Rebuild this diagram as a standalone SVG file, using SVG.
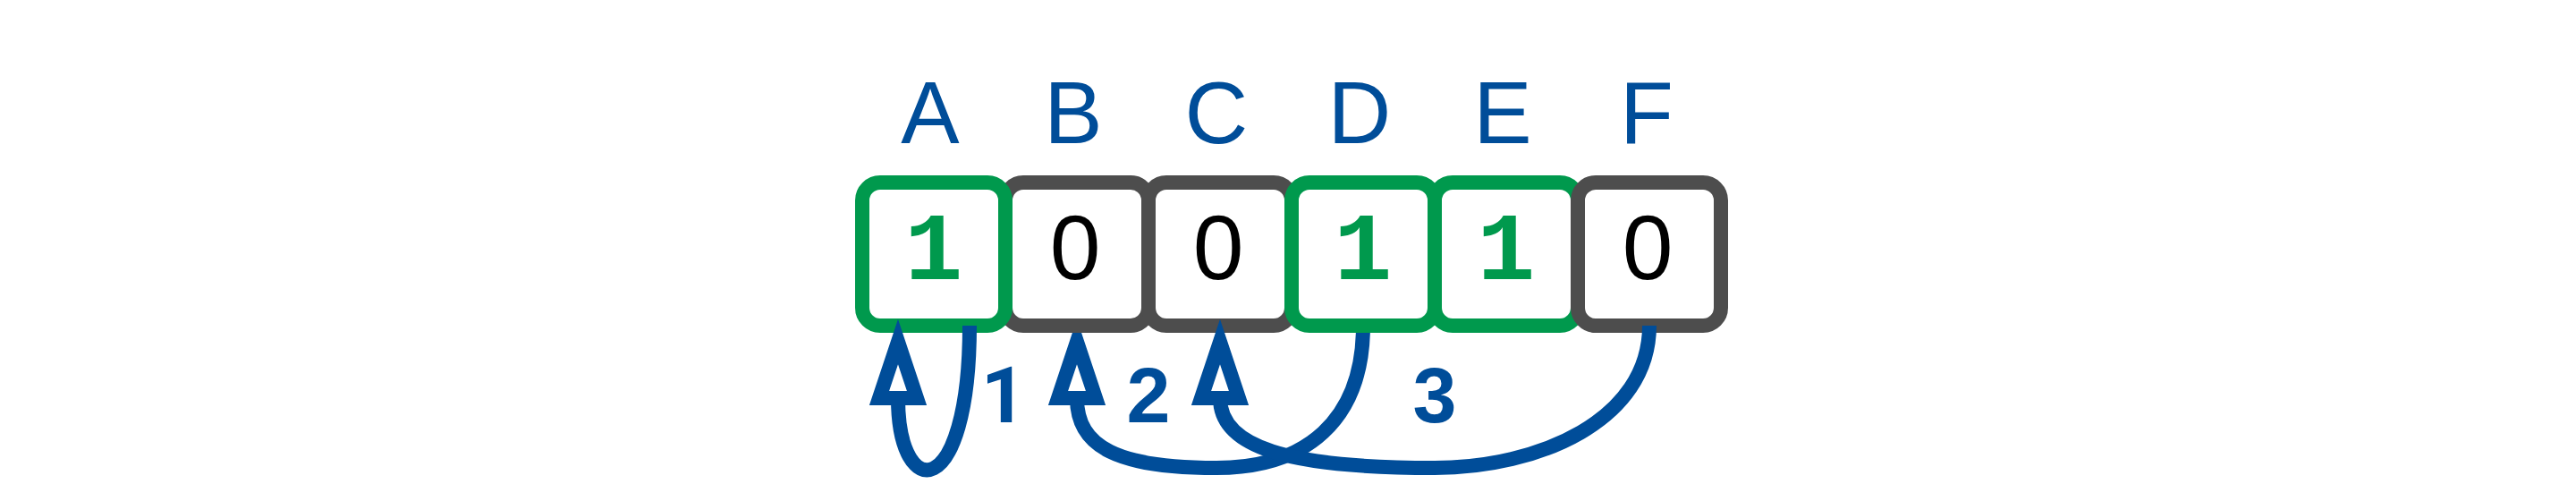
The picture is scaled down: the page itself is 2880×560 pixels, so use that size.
<svg xmlns="http://www.w3.org/2000/svg" width="2880" height="560" viewBox="0 0 2880 560">
<style>
.box{fill:#fff;stroke-width:16}
.on{stroke:#00994D}
.off{stroke:#4D4D4D}
.name{font-family:"Liberation Sans",Arial,sans-serif;font-size:98px;fill:#004D99;text-anchor:middle}
.bit{text-anchor:middle}
.b1{font-family:"Liberation Mono","Courier New",monospace;font-size:108px;fill:#00994D;font-weight:bold}
.b0{font-family:"Liberation Sans",Arial,sans-serif;font-size:102px;fill:#000}
.edge{fill:none;stroke:#004D99;stroke-width:16}
.head{fill:#fff;stroke:#004D99;stroke-width:16;stroke-linejoin:miter;stroke-miterlimit:10}
.lbl{font-family:"Liberation Sans",Arial,sans-serif;font-size:88px;font-weight:700;fill:#004D99;text-anchor:middle}
.lbl1{font-family:Roboto,"Liberation Sans",sans-serif}
</style>
<defs>
<path id="ah" d="M0,382 L21,445 L-21,445 Z"/>
<clipPath id="below"><rect x="0" y="372" width="2880" height="188"/></clipPath>
</defs>
<rect width="2880" height="560" fill="#fff"/>
<g id="nodes">
<g id="node-B"><text class="name" x="1200" y="160">B</text><rect class="box off" x="1124" y="204" width="160" height="160" rx="20"/><text class="bit b0" x="1202" y="312">0</text></g>
<g id="node-C"><text class="name" x="1360" y="160">C</text><rect class="box off" x="1284" y="204" width="160" height="160" rx="20"/><text class="bit b0" x="1362" y="312">0</text></g>
<g id="node-A"><text class="name" x="1040" y="160">A</text><rect class="box on" x="964" y="204" width="160" height="160" rx="20"/><text class="bit b1" x="1044" y="312">1</text></g>
<g id="node-D"><text class="name" x="1520" y="160">D</text><rect class="box on" x="1444" y="204" width="160" height="160" rx="20"/><text class="bit b1" x="1524" y="312">1</text></g>
<g id="node-E"><text class="name" x="1680" y="160">E</text><rect class="box on" x="1604" y="204" width="160" height="160" rx="20"/><text class="bit b1" x="1684" y="312">1</text></g>
<g id="node-F"><text class="name" x="1841" y="160">F</text><rect class="box off" x="1764" y="204" width="160" height="160" rx="20"/><text class="bit b0" x="1842" y="312">0</text></g>
</g>
<g id="connectors">
<g id="edge-1">
<path class="edge" d="M1084,364 C1084,563 1004,563 1004,445"/>
<use href="#ah" class="head" x="1004"/>
<text class="lbl lbl1" x="1122" y="472">1</text>
</g>
<g id="edge-2">
<g clip-path="url(#below)">
<path class="edge" d="M1524,364 C1524,470 1460,523 1360,523 C1250,523 1204,500 1204,445"/>
<use href="#ah" class="head" x="1204"/>
</g>
<text class="lbl" x="1284" y="472">2</text>
</g>
<g id="edge-3">
<path class="edge" d="M1844,364 C1844,470 1720,523 1604,523 C1440,523 1364,500 1364,445"/>
<use href="#ah" class="head" x="1364"/>
<text class="lbl" x="1604" y="472">3</text>
</g>
</g>
</svg>
